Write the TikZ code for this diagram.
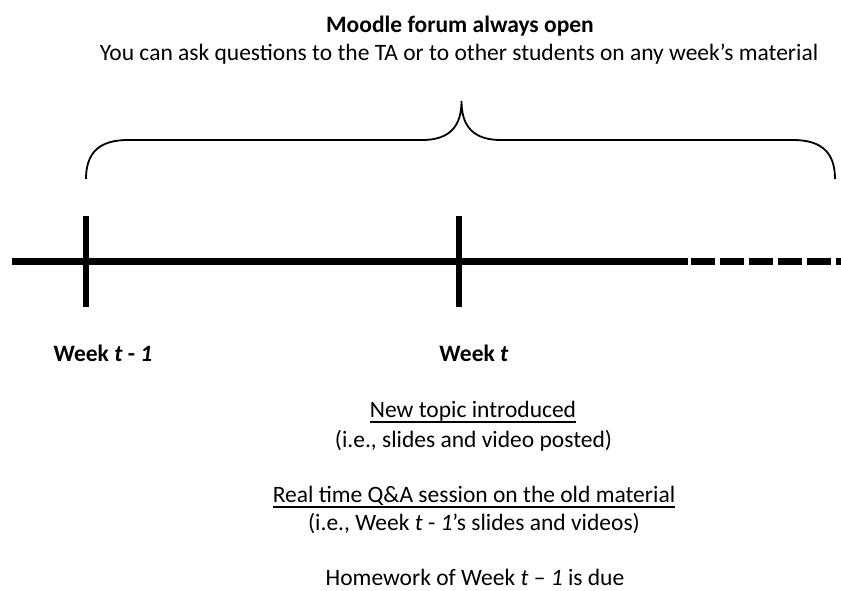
\documentclass[tikz,border=0pt]{standalone}
\usepackage{fontspec}
\setmainfont{Carlito}

\begin{document}
\begin{tikzpicture}[x=1pt,y=-1pt,
    txt/.style={anchor=base,inner sep=0pt,font=\fontsize{23.5}{28}\selectfont},
    boldtxt/.style={txt,font=\fontsize{23.5}{28}\selectfont\bfseries},
    weektick/.style={line width=5.5pt},
    ulbar/.style={line width=1.3pt}]
\useasboundingbox (0,0) rectangle (841,590);

% forum
\node[boldtxt] (forum) at (460,32) {Moodle forum always open};
\node[txt] (forumtxt) at (459,60) {You can ask questions to the TA or to other students on any week’s material};

% brace over the weeks
\draw[line width=1.8pt] (86,179) .. controls (86,152) and (100,140) .. (128,140) -- (422,140)
  .. controls (450,140) and (461.5,126) .. (461.5,101)
  .. controls (461.5,126) and (473,140) .. (501,140) -- (793,140)
  .. controls (821,140) and (835,152) .. (835,179);

% timeline
\coordinate (start) at (12,261.5);
\coordinate (solidend) at (688,261.5);
\coordinate (lineend) at (841,261.5);
\draw[line width=6.8pt] (start) -- (solidend);
\draw[line width=6.8pt, dash pattern=on 24pt off 5pt] ([xshift=3pt]solidend) -- (lineend);

\coordinate (prevtop) at (86,216);
\coordinate (prevbot) at (86,307);
\coordinate (curtop) at (459,216);
\coordinate (curbot) at (459,307);
\draw[weektick] (prevtop) -- (prevbot);
\draw[weektick] (curtop) -- (curbot);

\node[boldtxt] (prevweek) at (103,361) {Week \textit{t} - \textit{1}};
\node[boldtxt] (curweek) at (474,361) {Week \textit{t}};

% what happens in week t
\node[txt] (topic) at (473,417) {New topic introduced};
\draw[ulbar] ([yshift=-5pt]topic.base west) -- ([yshift=-5pt]topic.base east);
\node[txt] (topicnote) at (473.5,447) {(i.e., slides and video posted)};

\node[txt] (qa) at (474,502) {Real time Q\&A session on the old material};
\draw[ulbar] ([yshift=-5pt]qa.base west) -- ([yshift=-5pt]qa.base east);
\node[txt] (qanote) at (474,530) {(i.e., Week \textit{t} - \textit{1}’s slides and videos)};

\node[txt] (hw) at (475,585) {Homework of Week \textit{t} – \textit{1} is due};

\end{tikzpicture}
\end{document}
